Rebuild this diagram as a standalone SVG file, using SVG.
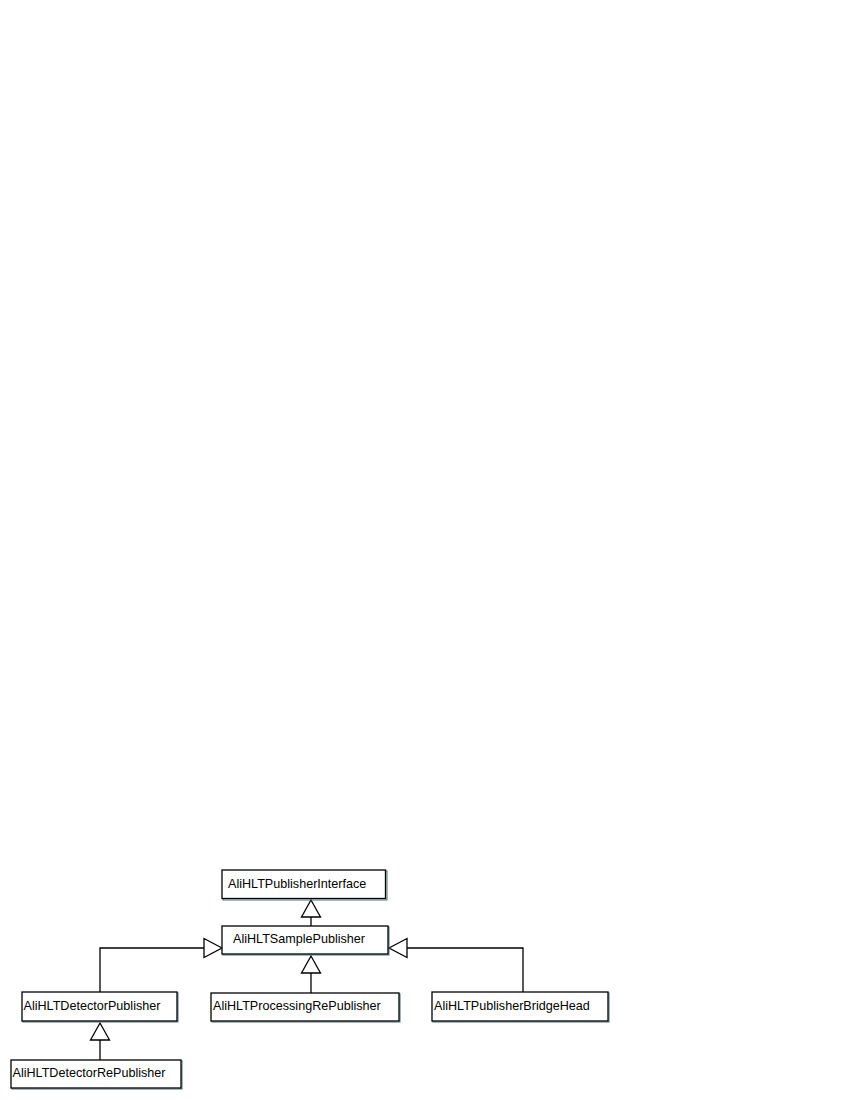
<svg xmlns="http://www.w3.org/2000/svg" width="850" height="1100" viewBox="0 0 850 1100">
<style>
.box{fill:#ffffff;stroke:#000000;stroke-width:1.3}
.sh{fill:none;stroke:#3d6b6b;stroke-width:1.2;opacity:0.8}
.lbl{font-family:"Liberation Sans",Arial,sans-serif;font-size:12.6px;fill:#000000}
.edge{fill:none;stroke:#000000;stroke-width:1.3}
.tri{fill:#ffffff;stroke:#000000;stroke-width:1.3;stroke-linejoin:miter}
</style>
<rect width="850" height="1100" fill="#ffffff"/>
<g id="connectors">
  <line class="edge" x1="311" y1="917" x2="311" y2="926"/>
  <polygon class="tri" points="311,900 301.5,917 320.5,917"/>
  <line class="edge" x1="311" y1="973" x2="311" y2="993"/>
  <polygon class="tri" points="311,956 301.5,973 320.5,973"/>
  <polyline class="edge" points="100,992 100,948 204,948"/>
  <polygon class="tri" points="222,948 204,938.5 204,957.5"/>
  <polyline class="edge" points="523,992 523,948 407,948"/>
  <polygon class="tri" points="389,948 407,938.5 407,957.5"/>
  <line class="edge" x1="100" y1="1040" x2="100" y2="1060"/>
  <polygon class="tri" points="100,1023 90.5,1040 109.5,1040"/>
</g>
<g id="n_interface">
  <rect class="sh" x="223" y="871" width="164" height="29"/>
  <rect class="box" x="222" y="870" width="163.5" height="28.5"/>
  <text class="lbl" x="228" y="888">AliHLTPublisherInterface</text>
</g>
<g id="n_sample">
  <rect class="sh" x="223" y="927" width="166" height="28"/>
  <rect class="box" x="222" y="926" width="166" height="28"/>
  <text class="lbl" x="233" y="943">AliHLTSamplePublisher</text>
</g>
<g id="n_detector">
  <rect class="sh" x="23" y="993" width="155" height="29"/>
  <rect class="box" x="22" y="992" width="155" height="29"/>
  <text class="lbl" x="23.5" y="1009.5">AliHLTDetectorPublisher</text>
</g>
<g id="n_processing">
  <rect class="sh" x="212" y="994" width="188" height="28"/>
  <rect class="box" x="211" y="993" width="188" height="28"/>
  <text class="lbl" x="213" y="1009.5">AliHLTProcessingRePublisher</text>
</g>
<g id="n_bridge">
  <rect class="sh" x="433" y="993" width="176" height="29"/>
  <rect class="box" x="432" y="992" width="176" height="29"/>
  <text class="lbl" x="434" y="1009.5">AliHLTPublisherBridgeHead</text>
</g>
<g id="n_detrepub">
  <rect class="sh" x="12" y="1061" width="170" height="28"/>
  <rect class="box" x="11" y="1060" width="170" height="28"/>
  <text class="lbl" x="12.5" y="1076.5">AliHLTDetectorRePublisher</text>
</g>
</svg>
